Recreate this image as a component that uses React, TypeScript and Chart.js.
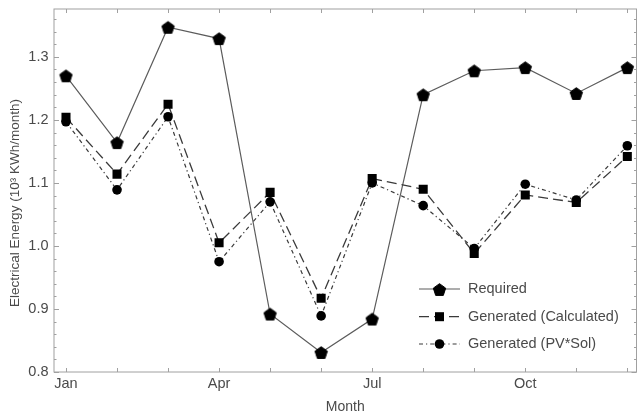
import React, { useEffect, useRef } from 'react';
import { Chart, registerables } from 'chart.js';

Chart.register(...registerables);

const W = 638;
const H = 418;

const months = ['Jan', 'Feb', 'Mar', 'Apr', 'May', 'Jun', 'Jul', 'Aug', 'Sep', 'Oct', 'Nov', 'Dec'];
const labeledMonths = ['Jan', 'Apr', 'Jul', 'Oct'];
const yTickLabels = [0.8, 0.9, 1.0, 1.1, 1.2, 1.3];

const seriesLabels = ['Required', 'Generated (Calculated)', 'Generated (PV*Sol)'];
const required = [1.270, 1.164, 1.347, 1.329, 0.892, 0.831, 0.884, 1.240, 1.278, 1.283, 1.242, 1.283];
const generatedCalculated = [1.204, 1.114, 1.225, 1.005, 1.085, 0.917, 1.107, 1.090, 0.988, 1.081, 1.069, 1.142];
const generatedPVSol = [1.197, 1.089, 1.205, 0.975, 1.070, 0.889, 1.100, 1.064, 0.996, 1.098, 1.073, 1.159];

const yTitle = 'Electrical Energy (10³ KWh/month)';
const xTitle = 'Month';

const FONT = '"Liberation Sans", Arial, sans-serif';
const TEXT = '#4a4a4a';
const FRAME = '#a0a0a0';

const AREA = { left: 54, right: 636.5, top: 9, bottom: 372 };

function makePentagon(r: number, color: string) {
  const size = Math.ceil(r * 2 + 2);
  const c = document.createElement('canvas');
  c.width = size;
  c.height = size;
  const g = c.getContext('2d')!;
  g.fillStyle = color;
  g.strokeStyle = color;
  g.lineWidth = 1;
  g.lineJoin = 'round';
  g.beginPath();
  const cy = size / 2 + r * 0.1;
  for (let i = 0; i < 5; i++) {
    const a = -Math.PI / 2 + (i * 2 * Math.PI) / 5;
    const px = size / 2 + r * Math.cos(a);
    const py = cy + r * Math.sin(a);
    if (i === 0) g.moveTo(px, py);
    else g.lineTo(px, py);
  }
  g.closePath();
  g.fill();
  g.stroke();
  return c;
}

export default function App() {
  const ref = useRef<HTMLCanvasElement | null>(null);

  useEffect(() => {
    const canvas = ref.current;
    if (!canvas) return;
    const pent = makePentagon(6.5, '#000');

    const framePlugin = {
      id: 'frameTicks',
      beforeDatasetsDraw(chart: any) {
        const { ctx, chartArea: a, scales } = chart;
        const xs = scales.x;
        const ys = scales.y;
        ctx.save();
        ctx.strokeStyle = FRAME;
        ctx.lineWidth = 1;
        ctx.strokeRect(a.left, a.top, a.right - a.left, a.bottom - a.top);
        ctx.beginPath();
        for (let i = 0; i < months.length; i++) {
          const x = Math.round(xs.getPixelForValue(i)) + 0.5;
          ctx.moveTo(x, a.bottom);
          ctx.lineTo(x, a.bottom - 4);
          ctx.moveTo(x, a.top);
          ctx.lineTo(x, a.top + 4);
        }
        for (let k = 0; k <= 30; k++) {
          const v = 0.8 + k * 0.02;
          if (v > ys.max) break;
          const y = Math.round(ys.getPixelForValue(v)) + 0.5;
          const len = k % 5 === 0 ? 5 : 2.5;
          ctx.moveTo(a.left, y);
          ctx.lineTo(a.left + len, y);
          ctx.moveTo(a.right, y);
          ctx.lineTo(a.right - len, y);
        }
        ctx.stroke();
        ctx.restore();
      },
      afterDraw(chart: any) {
        const { ctx, chartArea: a } = chart;
        ctx.save();
        ctx.fillStyle = TEXT;
        ctx.font = `14px ${FONT}`;
        ctx.textAlign = 'center';
        ctx.textBaseline = 'middle';
        ctx.fillText(xTitle, (a.left + a.right) / 2, 407);
        ctx.save();
        ctx.translate(15, 203);
        ctx.rotate(-Math.PI / 2);
        ctx.font = `13.5px ${FONT}`;
        ctx.fillText(yTitle, 0, 0);
        ctx.restore();

        // legend
        const rows = [289, 316.7, 344];
        chart.data.datasets.forEach((ds: any, i: number) => {
          const y = rows[i];
          ctx.save();
          ctx.strokeStyle = ds.borderColor;
          ctx.lineWidth = ds.borderWidth;
          ctx.setLineDash(ds.borderDash || []);
          ctx.beginPath();
          ctx.moveTo(419, y);
          ctx.lineTo(460, y);
          ctx.stroke();
          ctx.restore();
          const mx = 439.5;
          ctx.fillStyle = '#000';
          if (i === 0) {
            ctx.drawImage(pent, Math.round(mx - pent.width / 2), Math.round(y - pent.height / 2));
          } else if (i === 1) {
            ctx.fillRect(mx - 4.5, y - 4.5, 9, 9);
          } else {
            ctx.beginPath();
            ctx.arc(mx, y, 4.8, 0, Math.PI * 2);
            ctx.fill();
          }
          ctx.fillStyle = TEXT;
          ctx.font = `14.5px ${FONT}`;
          ctx.textAlign = 'left';
          ctx.textBaseline = 'middle';
          ctx.fillText(ds.label, 468, y);
        });
        ctx.restore();
      },
    };

    // force the plot area to the reference frame
    const areaPlugin = {
      id: 'fixArea',
      afterLayout(chart: any) {
        const a = chart.chartArea;
        a.left = AREA.left;
        a.right = AREA.right;
        a.top = AREA.top;
        a.bottom = AREA.bottom;
        a.width = AREA.right - AREA.left;
        a.height = AREA.bottom - AREA.top;
        const xs = chart.scales.x;
        const ys = chart.scales.y;
        xs.left = AREA.left;
        xs.right = AREA.right;
        xs.width = AREA.right - AREA.left;
        xs.top = AREA.bottom;
        xs.bottom = H;
        xs.height = H - AREA.bottom;
        ys.top = AREA.top;
        ys.bottom = AREA.bottom;
        ys.height = AREA.bottom - AREA.top;
        ys.left = 0;
        ys.right = AREA.left;
        ys.width = AREA.left;
        xs.configure();
        ys.configure();
      },
    };

    const toPts = (arr: number[]) => arr.map((v, i) => ({ x: i, y: v }));

    const chart = new Chart(canvas, {
      type: 'line',
      data: {
        datasets: [
          {
            label: seriesLabels[0],
            data: toPts(required),
            borderColor: '#5c5c5c',
            borderWidth: 1.2,
            pointStyle: pent as any,
            pointRadius: 6,
            pointBackgroundColor: '#000',
            pointBorderColor: '#000',
            order: 3,
          },
          {
            label: seriesLabels[1],
            data: toPts(generatedCalculated),
            borderColor: '#3a3a3a',
            borderWidth: 1.3,
            borderDash: [10, 5],
            pointStyle: 'rect',
            pointRadius: 6.4,
            pointBorderWidth: 0,
            pointBackgroundColor: '#000',
            pointBorderColor: '#000',
            order: 2,
          },
          {
            label: seriesLabels[2],
            data: toPts(generatedPVSol),
            borderColor: '#3a3a3a',
            borderWidth: 1.2,
            borderDash: [4, 3, 1.2, 3],
            pointStyle: 'circle',
            pointRadius: 4.8,
            pointBorderWidth: 0,
            pointBackgroundColor: '#000',
            pointBorderColor: '#000',
            order: 1,
          },
        ],
      },
      options: {
        responsive: false,
        animation: false,
        events: [],
        layout: { padding: { top: 9, right: 1.5, left: 0, bottom: 0 } },
        plugins: {
          legend: { display: false },
          tooltip: { enabled: false },
        },
        elements: { line: { tension: 0 } },
        scales: {
          x: {
            type: 'linear',
            min: -0.235,
            max: 11.18,
            grid: { display: false, drawTicks: false },
            border: { display: false },
            afterBuildTicks: (s: any) => {
              s.ticks = labeledMonths.map((m) => ({ value: months.indexOf(m) }));
            },
            afterFit: (s: any) => {
              s.height = 46;
              s.paddingLeft = 0;
              s.paddingRight = 0;
              s.paddingTop = 0;
              s.paddingBottom = 0;
            },
            ticks: {
              autoSkip: false,
              maxRotation: 0,
              padding: 3,
              color: TEXT,
              font: { family: FONT, size: 14.5 },
              callback: (v: any) => months[Math.round(Number(v))] ?? '',
            },
          },
          y: {
            type: 'linear',
            min: 0.8,
            max: 1.376,
            grid: { display: false, drawTicks: false },
            border: { display: false },
            afterBuildTicks: (s: any) => {
              s.ticks = yTickLabels.map((v) => ({ value: v }));
            },
            afterFit: (s: any) => {
              s.width = 54;
              s.paddingTop = 0;
              s.paddingBottom = 0;
              s.paddingLeft = 0;
              s.paddingRight = 0;
            },
            ticks: {
              padding: 5.5,
              color: TEXT,
              font: { family: FONT, size: 14.5 },
              callback: (v: any) => Number(v).toFixed(1),
            },
          },
        },
      },
      plugins: [areaPlugin, framePlugin],
    });

    return () => chart.destroy();
  }, []);

  return (
    <div style={{ position: 'fixed', left: 0, top: 0, width: W, height: H, background: '#fff' }}>
      <canvas ref={ref} width={W} height={H} style={{ display: 'block', width: W, height: H }} />
    </div>
  );
}
